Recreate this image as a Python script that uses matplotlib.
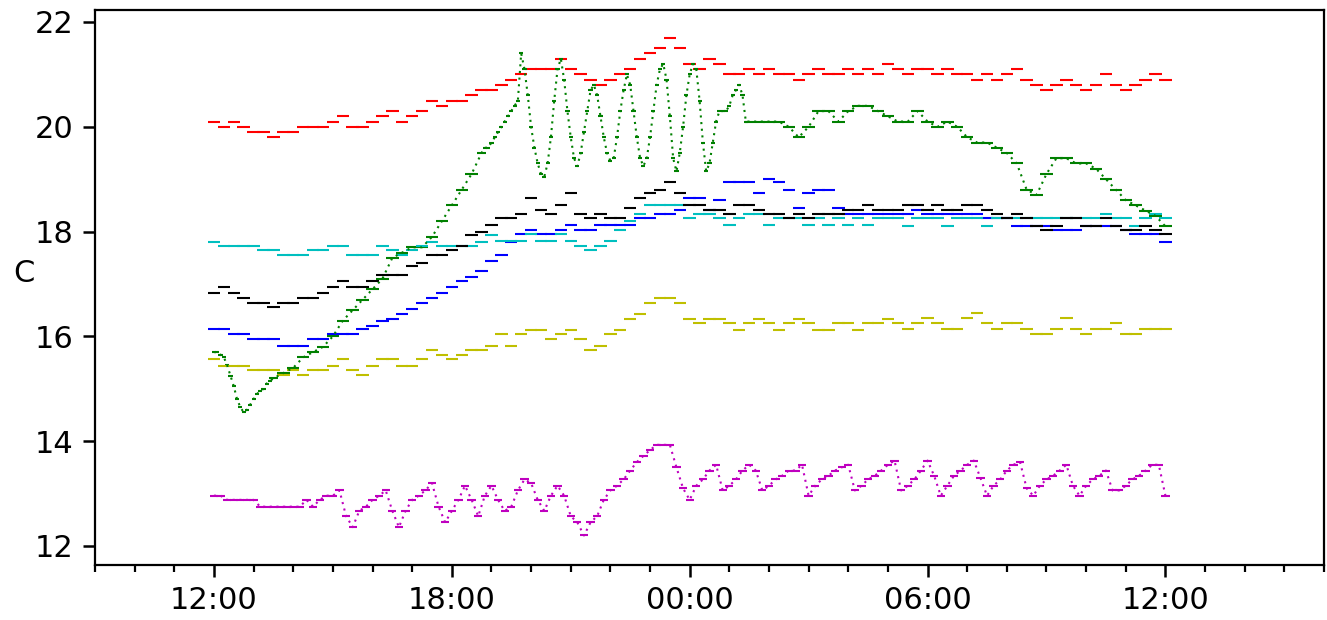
import numpy as np
import matplotlib
matplotlib.use("Agg")
import matplotlib.pyplot as plt
import matplotlib.dates as mdates

# ---------------- data (minutes after 12:00, temperatures in C) ----------------
base = np.datetime64("2020-01-01T12:00")

t15 = np.arange(0, 1441, 15)      # 15-minute grid for most sensors
t10 = np.arange(0, 1441, 10)      # 10-minute grid for magenta

red = [20.1, 20.0, 20.1, 20.0, 19.9, 19.9, 19.8, 19.9, 19.9, 20.0,
       20.0, 20.0, 20.1, 20.2, 20.0, 20.0, 20.1, 20.2, 20.3, 20.1,
       20.2, 20.3, 20.5, 20.4, 20.5, 20.5, 20.6, 20.7, 20.7, 20.8,
       20.9, 21.0, 21.1, 21.1, 21.1, 21.3, 21.1, 21.0, 20.9, 20.8,
       20.9, 21.0, 21.1, 21.3, 21.4, 21.5, 21.7, 21.5, 21.2, 21.1,
       21.3, 21.2, 21.0, 21.0, 21.1, 21.0, 21.1, 21.0, 21.0, 20.9,
       21.0, 21.1, 21.0, 21.0, 21.1, 21.0, 21.1, 21.0, 21.2, 21.1,
       21.0, 21.1, 21.1, 21.0, 21.1, 21.0, 21.0, 20.9, 21.0, 20.9,
       21.0, 21.1, 20.9, 20.8, 20.7, 20.8, 20.9, 20.8, 20.7, 20.8,
       21.0, 20.8, 20.7, 20.8, 20.9, 21.0, 20.9]

green_t = np.concatenate([np.arange(0, 91, 5), np.arange(105, 406, 15),
                          np.arange(410, 806, 5), np.arange(810, 1441, 15)])
green = [15.7, 15.7, 15.65, 15.6, 15.45, 15.25, 15.05, 14.8, 14.65, 14.55,
         14.6, 14.7, 14.8, 14.9, 14.95, 15.0, 15.1, 15.15, 15.2,
         15.3, 15.4, 15.6, 15.7, 15.8, 16.0, 16.3, 16.5, 16.7, 16.9,
         17.1, 17.5, 17.6, 17.7, 17.7, 17.9, 18.2, 18.5, 18.8, 19.1, 19.5,
         19.6, 19.6, 19.7, 19.8, 19.9, 20.0, 20.1, 20.2, 20.3, 20.4,
         20.5, 21.4, 21.1, 20.6, 20.0, 19.6, 19.3, 19.1, 19.05, 19.3,
         19.8, 20.5, 21.1, 21.3, 20.9, 20.3, 19.8, 19.4, 19.25, 19.5,
         19.9, 20.3, 20.7, 20.8, 20.6, 20.2, 19.8, 19.5, 19.35, 19.4,
         19.8, 20.3, 20.7, 21.0, 20.8, 20.3, 19.8, 19.4, 19.25, 19.4,
         19.8, 20.3, 20.8, 21.1, 21.2, 20.9, 20.2, 19.4, 19.15, 19.5,
         20.0, 20.6, 21.0, 21.2, 21.1, 20.5, 19.7, 19.15, 19.3, 19.7,
         20.1, 20.3, 20.3, 20.3, 20.4, 20.6, 20.7, 20.8, 20.6, 20.1,
         20.1, 20.1, 20.1, 20.1, 20.0, 19.8, 20.0, 20.3, 20.3, 20.1,
         20.3, 20.4, 20.4, 20.3, 20.2, 20.1, 20.1, 20.3, 20.1, 20.0,
         20.1, 20.0, 19.8, 19.7, 19.7, 19.6, 19.5, 19.3, 18.8, 18.7,
         19.1, 19.4, 19.4, 19.3, 19.3, 19.2, 19.0, 18.8, 18.6, 18.5,
         18.4, 18.3, 18.1]

blue = [16.14, 16.14, 16.05, 16.05, 15.95, 15.95, 15.95, 15.82, 15.82, 15.82,
        15.95, 15.95, 16.05, 16.05, 16.05, 16.14, 16.2, 16.3, 16.34, 16.43,
        16.52, 16.64, 16.73, 16.82, 16.95, 17.05, 17.14, 17.25, 17.43, 17.55,
        17.81, 17.95, 18.03, 17.95, 17.95, 18.03, 18.13, 18.03, 18.03, 18.13,
        18.13, 18.13, 18.13, 18.25, 18.25, 18.33, 18.33, 18.42, 18.64, 18.64,
        18.42, 18.6, 18.94, 18.94, 18.94, 18.73, 19.0, 18.94, 18.8, 18.45,
        18.73, 18.8, 18.8, 18.45, 18.33, 18.33, 18.33, 18.33, 18.33, 18.33,
        18.33, 18.41, 18.33, 18.33, 18.33, 18.33, 18.33, 18.33, 18.25, 18.25,
        18.25, 18.11, 18.11, 18.11, 18.11, 18.03, 18.03, 18.03, 18.11, 18.11,
        18.11, 18.11, 18.03, 17.95, 17.95, 17.95, 17.8]

cyan = [17.81, 17.73, 17.73, 17.73, 17.73, 17.65, 17.65, 17.55, 17.55, 17.55,
        17.65, 17.65, 17.73, 17.73, 17.55, 17.55, 17.55, 17.73, 17.65, 17.55,
        17.65, 17.73, 17.81, 17.73, 17.73, 17.73, 17.73, 17.81, 17.93, 17.82,
        17.82, 17.82, 17.95, 17.82, 17.82, 17.95, 17.82, 17.73, 17.64, 17.73,
        17.82, 18.03, 18.2, 18.33, 18.5, 18.5, 18.5, 18.5, 18.25, 18.33,
        18.33, 18.25, 18.13, 18.25, 18.33, 18.33, 18.13, 18.25, 18.25, 18.25,
        18.13, 18.25, 18.13, 18.25, 18.13, 18.25, 18.13, 18.25, 18.25, 18.25,
        18.11, 18.25, 18.25, 18.25, 18.11, 18.25, 18.25, 18.25, 18.11, 18.25,
        18.25, 18.25, 18.25, 18.25, 18.25, 18.25, 18.25, 18.25, 18.25, 18.25,
        18.33, 18.25, 18.25, 18.11, 18.25, 18.33, 18.25]

magenta = [12.96, 12.96, 12.88, 12.88, 12.88, 12.88, 12.88, 12.75, 12.75, 12.75,
           12.75, 12.75, 12.75, 12.75, 12.88, 12.75, 12.88, 12.96, 12.96, 13.06,
           12.57, 12.36, 12.67, 12.75, 12.88, 12.96, 13.06, 12.67, 12.36, 12.67,
           12.88, 12.96, 13.06, 13.2, 12.75, 12.45, 12.67, 12.88, 13.15, 12.88,
           12.57, 12.96, 13.15, 12.88, 12.67, 12.75, 13.06, 13.27, 13.2, 12.88,
           12.67, 12.96, 13.15, 12.96, 12.57, 12.45, 12.2, 12.45, 12.57, 12.88,
           13.06, 13.15, 13.27, 13.44, 13.6, 13.72, 13.83, 13.93, 13.93, 13.93,
           13.5, 13.1, 12.88, 13.15, 13.27, 13.44, 13.55, 13.06, 13.15, 13.27,
           13.44, 13.55, 13.44, 13.06, 13.15, 13.27, 13.34, 13.44, 13.44, 13.55,
           12.96, 13.15, 13.27, 13.34, 13.44, 13.5, 13.55, 13.06, 13.15, 13.27,
           13.34, 13.44, 13.55, 13.63, 13.06, 13.15, 13.27, 13.44, 13.63, 13.34,
           12.96, 13.15, 13.34, 13.44, 13.55, 13.63, 13.3, 12.96, 13.15, 13.27,
           13.44, 13.55, 13.6, 13.1, 12.96, 13.15, 13.27, 13.34, 13.44, 13.55,
           13.15, 12.96, 13.15, 13.27, 13.34, 13.44, 13.06, 13.06, 13.15, 13.27,
           13.34, 13.44, 13.55, 13.55, 12.96]

yellow = [15.57, 15.43, 15.43, 15.43, 15.35, 15.35, 15.35, 15.26, 15.35, 15.26,
          15.35, 15.35, 15.43, 15.57, 15.35, 15.26, 15.43, 15.57, 15.57, 15.43,
          15.43, 15.57, 15.74, 15.65, 15.57, 15.65, 15.74, 15.74, 15.82, 16.04,
          15.82, 16.04, 16.12, 16.12, 15.95, 16.04, 16.12, 15.95, 15.74, 15.82,
          16.04, 16.12, 16.34, 16.43, 16.64, 16.73, 16.73, 16.64, 16.34, 16.25,
          16.34, 16.34, 16.25, 16.12, 16.25, 16.34, 16.25, 16.12, 16.25, 16.34,
          16.25, 16.12, 16.12, 16.25, 16.25, 16.12, 16.25, 16.25, 16.34, 16.25,
          16.14, 16.25, 16.35, 16.25, 16.14, 16.14, 16.35, 16.44, 16.25, 16.14,
          16.25, 16.25, 16.14, 16.04, 16.04, 16.14, 16.35, 16.14, 16.04, 16.14,
          16.14, 16.25, 16.04, 16.04, 16.14, 16.14, 16.14]

black = [16.82, 16.95, 16.82, 16.73, 16.64, 16.64, 16.56, 16.64, 16.64, 16.73,
         16.73, 16.82, 16.95, 17.05, 16.95, 16.95, 17.05, 17.17, 17.17, 17.17,
         17.34, 17.4, 17.55, 17.55, 17.65, 17.73, 17.93, 18.0, 18.13, 18.25,
         18.25, 18.34, 18.64, 18.42, 18.34, 18.5, 18.73, 18.34, 18.25, 18.34,
         18.25, 18.25, 18.45, 18.64, 18.73, 18.8, 18.94, 18.73, 18.5, 18.5,
         18.42, 18.42, 18.34, 18.5, 18.5, 18.42, 18.34, 18.34, 18.25, 18.34,
         18.25, 18.34, 18.34, 18.34, 18.41, 18.41, 18.5, 18.41, 18.41, 18.41,
         18.5, 18.5, 18.41, 18.5, 18.41, 18.41, 18.5, 18.5, 18.41, 18.33,
         18.25, 18.33, 18.25, 18.11, 18.03, 18.11, 18.25, 18.25, 18.11, 18.11,
         18.25, 18.11, 18.03, 18.03, 18.11, 18.03, 17.95]

series = [
    (t15, red, "r"),
    (green_t, green, "g"),
    (t15, blue, "b"),
    (t15, cyan, "c"),
    (t10, magenta, "m"),
    (t15, yellow, "y"),
    (t15, black, "k"),
]

# ---------------- figure ----------------
DPI = 200
W, H = 1327, 620
plt.rcParams["font.family"] = ["DejaVu Sans"]
plt.rcParams["font.size"] = 11
fig = plt.figure(figsize=(W / DPI, H / DPI), dpi=DPI)
ax = fig.add_axes([95 / W, (H - 565) / H, (1324 - 95) / W, (565 - 10) / H])

xmin = np.datetime64("2020-01-01T09:00")
xmax = np.datetime64("2020-01-02T16:00")
ax_w_pt = (1324 - 95) / DPI * 72
span_min = (xmax - xmin) / np.timedelta64(1, "m")
pt_per_min = ax_w_pt / span_min

def to_dates(tm):
    return base + np.asarray(tm).astype("timedelta64[m]")

for tm, vals, col in series:
    tm = np.asarray(tm, dtype=float)
    vals = np.asarray(vals, dtype=float)
    assert len(tm) == len(vals), (col, len(tm), len(vals))
    dt = np.gradient(tm)
    sizes = (1.25 * dt * pt_per_min) ** 2
    x = to_dates(tm)
    if col in ("g", "m"):
        ax.plot(x, vals, color=col, lw=0.75, ls=(0, (1, 2.2)))
    ax.scatter(x, vals, marker="_", s=sizes, c=col, linewidths=0.75)

ax.set_xlim(xmin, xmax)
ax.set_ylim(11.637, 22.229)
ax.set_yticks([12, 14, 16, 18, 20, 22])
ax.xaxis.set_major_locator(mdates.HourLocator(byhour=[0, 6, 12, 18]))
ax.xaxis.set_minor_locator(mdates.HourLocator())
ax.xaxis.set_major_formatter(mdates.DateFormatter("%H:%M"))
ax.tick_params(which="major", length=4.2, width=0.9)
ax.tick_params(which="minor", length=2.6, width=0.8)
for s in ax.spines.values():
    s.set_linewidth(0.8)
ax.set_ylabel("C", rotation=0)

fig.savefig("out.png", dpi=DPI)
